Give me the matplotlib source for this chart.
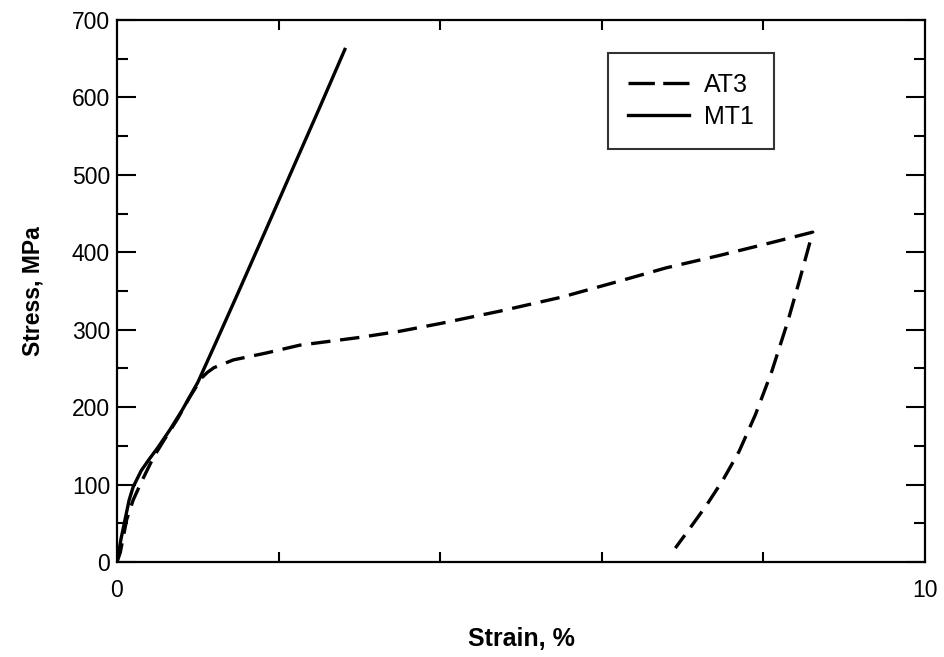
import matplotlib
matplotlib.use("Agg")
import matplotlib.pyplot as plt
from matplotlib.ticker import MultipleLocator, FixedLocator

plt.rcParams['font.family'] = ['Liberation Sans', 'DejaVu Sans']
plt.rcParams['lines.scale_dashes'] = False

# AT3 (dashed): loading then unloading
at3_strain = [0, 0.04, 0.12, 0.2, 0.3, 0.45, 0.58, 0.75, 0.9, 1.05, 1.12, 1.2, 1.44, 1.85,
              2.26, 3.0, 3.5, 4.0, 4.74, 5.5, 6.26, 6.8, 7.46, 8.08, 8.61,
              8.45, 8.3, 8.1, 7.9, 7.7, 7.5, 7.3, 7.1, 6.91]
at3_stress = [0, 12, 55, 80, 103, 135, 157, 185, 213, 238, 245, 251, 261, 270,
              280, 290, 298, 308, 324, 342, 364, 380, 396, 412, 426,
              365, 310, 245, 190, 143, 106, 74, 45, 18]

# MT1 (solid)
mt1_strain = [0, 0.05, 0.1, 0.15, 0.2, 0.3, 0.4, 0.5, 0.65, 0.8, 1.0, 1.2, 1.5,
              1.83, 2.2, 2.5, 2.82]
mt1_stress = [0, 30, 55, 80, 97, 118, 133, 147, 170, 195, 232, 278, 348,
              426, 514, 585, 662]

series_labels = ["AT3", "MT1"]

fig = plt.figure(figsize=(9.45, 6.57), dpi=100)
ax = fig.add_axes([117/945, 1-562/657, (925-117)/945, (562-20)/657])

ax.plot(at3_strain, at3_stress, color='black', lw=2.4, ls=(0, (14, 7)),
        label=series_labels[0])
ax.plot(mt1_strain, mt1_stress, color='black', lw=2.4, ls='-',
        label=series_labels[1])

ax.set_xlim(0, 10)
ax.set_ylim(0, 700)

ax.xaxis.set_major_locator(FixedLocator([0, 10]))
ax.xaxis.set_minor_locator(FixedLocator([2, 4, 6, 8]))
ax.yaxis.set_major_locator(MultipleLocator(100))
ax.yaxis.set_minor_locator(MultipleLocator(50))

ax.tick_params(axis='both', which='both', direction='in', top=True, right=True,
               labelsize=16.5, width=1.5, color='black')
ax.tick_params(axis='y', which='major', length=14, pad=5)
ax.tick_params(axis='y', which='minor', length=8)
ax.tick_params(axis='x', which='major', length=0, pad=12)
ax.tick_params(axis='x', which='minor', length=7)

for s in ax.spines.values():
    s.set_linewidth(1.6)

ax.set_xlabel("Strain, %", fontsize=18, fontweight='bold', labelpad=18)
ax.set_ylabel("Stress, MPa", fontsize=16.5, fontweight='bold', labelpad=20)

leg = ax.legend(loc='upper left', bbox_to_anchor=((608-117)/808, 1-(53-20)/542),
                fontsize=18, frameon=True, fancybox=False, edgecolor='black',
                handlelength=2.45, handletextpad=0.6, borderpad=0.8,
                labelspacing=0.3, borderaxespad=0)
leg.get_frame().set_linewidth(1.5)
leg.get_lines()[0].set_linestyle((0, (19, 6)))

fig.savefig("out.png", dpi=100)
